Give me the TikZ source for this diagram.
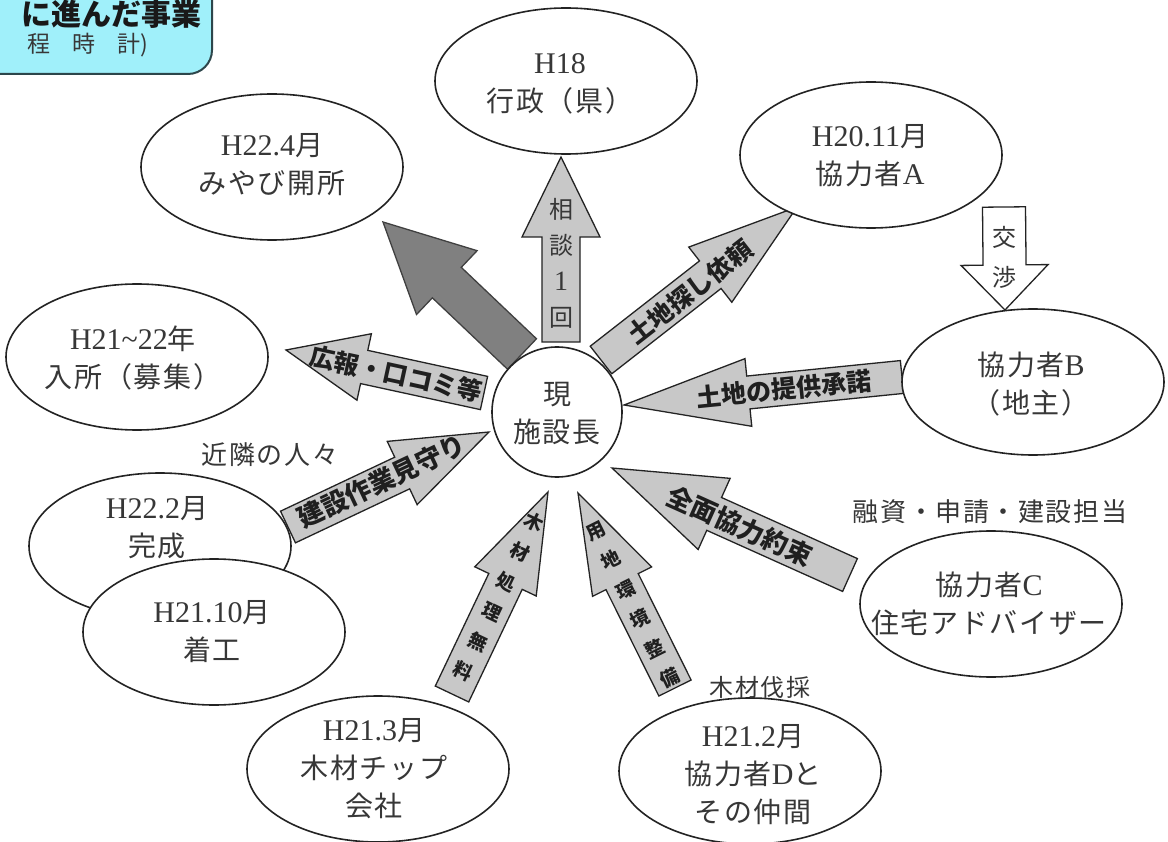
\documentclass[tikz,border=0pt]{standalone}
\usepackage{fontspec}
\setmainfont{Liberation Serif}
\newfontfamily\jp{Noto Sans CJK JP}[LetterSpace=6]
\newfontfamily\jpa{Noto Sans CJK JP}
\usetikzlibrary{shapes.geometric,calc}
\definecolor{cyanbox}{RGB}{160,240,250}
\definecolor{boxedge}{RGB}{45,70,75}
\definecolor{edge}{RGB}{35,35,35}
\definecolor{txt}{RGB}{55,55,55}
\definecolor{arrgray}{RGB}{200,200,200}
\definecolor{arrdark}{RGB}{128,128,128}
% block arrow: #1 tail, #2 tip, #3 shaft half width, #4 head half width, #5 head length, #6 style
\newcommand\blockarr[6]{%
  \coordinate (ba-b) at ($(#2)!#5!(#1)$);
  \draw[#6] ($(#1)!#3!90:(#2)$) -- ($(ba-b)!#3!-90:(#1)$) -- ($(ba-b)!#4!-90:(#1)$) -- (#2)
    -- ($(ba-b)!#4!90:(#1)$) -- ($(ba-b)!#3!90:(#1)$) -- ($(#1)!#3!-90:(#2)$) -- cycle;}
\newcommand\lat[1]{{\rmfamily\fontsize{30}{38}\selectfont #1}}
\tikzset{
  ell/.style={ellipse, draw=edge, line width=1.6pt, fill=white, minimum width=262pt, minimum height=146pt, inner sep=0pt},
  etext/.style={align=center, text=txt, inner sep=0pt, font=\jp\fontsize{28}{38}\selectfont},
  garrow/.style={draw=edge, line width=1.3pt, fill=arrgray, line join=miter},
  darrow/.style={draw=black!75, line width=1.3pt, fill=arrdark, line join=miter},
  warrow/.style={draw=edge, line width=1.3pt, fill=white, line join=miter},
  atext/.style={inner sep=0pt, text=black!88, font=\jpa\bfseries\fontsize{25}{25}\selectfont},
  stacktext/.style={inner sep=0pt, align=center, text=black!88, font=\jpa\bfseries\fontsize{19}{33}\selectfont},
  plaintext/.style={inner sep=0pt, text=txt, font=\jp\fontsize{26}{26}\selectfont},
}
\begin{document}
\begin{tikzpicture}[x=1pt, y=-1pt]
\useasboundingbox (0,0) rectangle (1168,842);
\clip (0,0) rectangle (1168,842);
\fill[white] (0,0) rectangle (1168,842);

% title callout
\draw[rounded corners=24pt, fill=cyanbox, draw=boxedge, line width=2pt] (-40,-40) rectangle (212,74);
\node[anchor=east, inner sep=0pt, text=black!90, font=\jpa\bfseries\fontsize{30}{30}\selectfont] (title1) at (202,14) {に進んだ事業};
\node[anchor=east, inner sep=0pt, text=txt, font=\jpa\fontsize{23}{23}\selectfont] (title2) at (148,45) {程\hspace{22pt}時\hspace{22pt}計)};

% arrow end points
\coordinate (a1t) at (561,342); \coordinate (a1h) at (561,157);
\coordinate (a2t) at (601,360); \coordinate (a2h) at (797,207);
\coordinate (a3t) at (1004,207); \coordinate (a3h) at (1005,310);
\coordinate (a4t) at (902,377); \coordinate (a4h) at (624,405);
\coordinate (a5t) at (850,575); \coordinate (a5h) at (612,468);
\coordinate (a6t) at (675,688); \coordinate (a6h) at (578,493);
\coordinate (a7t) at (452,694); \coordinate (a7h) at (548,492);
\coordinate (a8t) at (484,393); \coordinate (a8h) at (286,350);
\coordinate (a9t) at (288,527); \coordinate (a9h) at (489,432);
\coordinate (adt) at (522,354); \coordinate (adh) at (383,222);

% arrows
\blockarr{a1t}{a1h}{19pt}{39pt}{80pt}{garrow}
\blockarr{a2t}{a2h}{17.5pt}{35pt}{110pt}{garrow}
\blockarr{a3t}{a3h}{21.5pt}{43.5pt}{45pt}{warrow}
\blockarr{a4t}{a4h}{16.5pt}{34pt}{125pt}{garrow}
\blockarr{a5t}{a5h}{18pt}{39pt}{112pt}{garrow}
\blockarr{a6t}{a6h}{18pt}{33pt}{99pt}{garrow}
\blockarr{a7t}{a7h}{18.5pt}{34pt}{99pt}{garrow}
\blockarr{a8t}{a8h}{17pt}{34pt}{80pt}{garrow}
\blockarr{a9t}{a9h}{17.5pt}{35pt}{96pt}{garrow}
\blockarr{adt}{adh}{21pt}{44pt}{88pt}{darrow}

% arrow labels
\node[inner sep=0pt, align=center, text=txt, font=\jpa\fontsize{24}{36}\selectfont] (l1) at (561,263) {相\\談\\{\rmfamily\fontsize{28}{36}\selectfont 1}\\回};
\node[atext, rotate=38] (l2) at (690,292) {土地探し依頼};
\node[inner sep=0pt, align=center, text=txt, font=\jpa\fontsize{24}{40}\selectfont] (l3) at (1004,257) {交\\渉};
\node[atext, rotate=5.75] (l4) at (784,389) {土地の提供承諾};
\node[atext, rotate=-24.2, font=\jpa\bfseries\fontsize{26}{26}\selectfont] (l5) at (740,526) {全面協力約束};
\node[stacktext, rotate=26.4] (l6) at (633,605) {用\\地\\環\\境\\整\\備};
\node[stacktext, rotate=-25.4] (l7) at (499,597) {木\\材\\処\\理\\無\\料};
\node[atext, rotate=-12.3] (l8) at (396,374) {広報・口コミ等};
\node[atext, rotate=25.3, font=\jpa\bfseries\fontsize{26}{26}\selectfont] (l9) at (382,481) {建設作業見守り};

% ellipses
\node[ell] (e18) at (566,81) {};
\node[etext] (e18t) at (560,84) {\lat{H18}\\行政（県）};
\node[ell] (e224) at (272,167) {};
\node[etext] (e224t) at (272,165) {\lat{H22.4}月\\みやび開所};
\node[ell] (eA) at (871,155) {};
\node[etext] (eAt) at (870,156) {\lat{H20.11}月\\協力者\lat{A}};
\node[ell] (eB) at (1033,382) {};
\node[etext] (eBt) at (1031,384) {協力者\lat{B}\\（地主）};
\node[ell] (eC) at (991,604) {};
\node[etext] (eCt) at (989,604) {協力者\lat{C}\\住宅アドバイザー};
\node[ell] (e2122) at (137,357) {};
\node[etext] (e2122t) at (133,358) {\lat{H21\char`~22}年\\入所（募集）};
\node[ell] (e222) at (160,546) {};
\node[etext] (e222t) at (157,528) {\lat{H22.2}月\\完成};
\node[ell] (e2110) at (214,632) {};
\node[etext] (e2110t) at (212,632) {\lat{H21.10}月\\着工};
\node[ell] (e213) at (378,769) {};
\node[etext] (e213t) at (374,769) {\lat{H21.3}月\\木材チップ\\会社};
\node[ell] (e212) at (750,771) {};
\node[etext] (e212t) at (753,775) {\lat{H21.2}月\\協力者\lat{D}と\\その仲間};

% centre
\node[circle, draw=edge, line width=1.6pt, fill=white, minimum size=130pt, inner sep=0pt] (c) at (557,412) {};
\node[etext] (ct) at (557,414) {現\\施設長};

% free labels
\node[plaintext] (n1) at (270,455) {近隣の人々};
\node[plaintext] (n2) at (990,512) {融資・申請・建設担当};
\node[plaintext, font=\jp\fontsize{24}{24}\selectfont] (n3) at (760,687) {木材伐採};
\end{tikzpicture}
\end{document}
